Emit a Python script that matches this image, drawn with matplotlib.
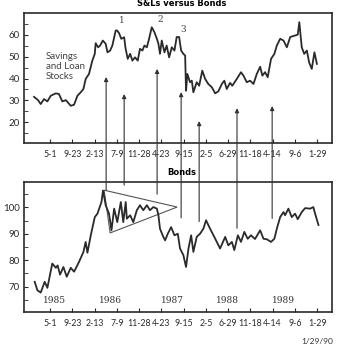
import matplotlib
matplotlib.use("Agg")
import matplotlib.pyplot as plt
from matplotlib.patches import ConnectionPatch, Polygon

plt.rcParams['font.family'] = ['Lato', 'DejaVu Sans']

# x axis is measured in tick intervals (0 = 5-1-85, 12 = 1-29-90)
tick_labels = ["5-1", "9-23", "2-13", "7-9", "11-28", "4-23", "9-15",
               "2-5", "6-29", "11-18", "4-14", "9-6", "1-29"]

# S&L stocks
sl_x = [-0.72, -0.54, -0.42, -0.27, -0.12, 0.03, 0.26, 0.40, 0.55, 0.71, 0.93, 1.08,
        1.23, 1.38, 1.50, 1.60, 1.75, 1.90, 2.01, 2.05, 2.16, 2.25, 2.37, 2.50,
        2.58, 2.70, 2.80, 2.95, 3.01, 3.10, 3.20, 3.33, 3.39, 3.49, 3.60, 3.70,
        3.82, 3.94, 4.04, 4.15, 4.24, 4.35, 4.45, 4.57, 4.69, 4.80, 4.87, 4.94,
        5.02, 5.14, 5.24, 5.35, 5.47, 5.59, 5.69, 5.80, 5.89, 5.99, 6.07, 6.11,
        6.17, 6.29, 6.37, 6.44, 6.59, 6.70, 6.84, 6.97, 7.11, 7.27, 7.42, 7.56,
        7.72, 7.83, 7.94, 8.09, 8.19, 8.39, 8.58, 8.69, 8.84, 8.99, 9.14, 9.29,
        9.44, 9.54, 9.66, 9.78, 9.93, 10.08, 10.19, 10.34, 10.49, 10.64, 10.79,
        11.01, 11.13, 11.20, 11.31, 11.42, 11.54, 11.64, 11.76, 11.88, 11.99]
sl_y = [31.6, 30.1, 28.3, 30.6, 29.5, 32.1, 33.2, 32.9, 29.5, 30.1, 27.5, 28.0,
        32.1, 33.7, 35.2, 39.8, 42.1, 48.2, 51.3, 56.2, 54.3, 55.1, 57.4, 55.9,
        52.0, 52.8, 55.1, 62.0, 62.0, 60.8, 58.2, 58.9, 54.0, 49.0, 51.3, 48.2,
        49.7, 48.2, 53.6, 52.8, 55.1, 54.3, 58.2, 63.5, 61.2, 58.2, 55.9, 51.3,
        57.4, 52.0, 55.1, 49.7, 54.3, 52.8, 59.0, 59.0, 52.8, 51.3, 50.5, 34.4,
        42.1, 38.3, 39.0, 33.7, 38.3, 36.7, 43.6, 39.8, 37.5, 36.0, 33.2, 34.1,
        37.5, 39.0, 35.2, 38.0, 36.7, 39.8, 42.9, 41.3, 38.3, 39.0, 37.5, 42.1,
        45.4, 41.3, 42.9, 40.6, 49.0, 51.3, 55.1, 58.2, 57.4, 54.3, 59.0,
        59.7, 60.1, 65.8, 54.3, 51.3, 52.8, 47.4, 44.4, 52.0, 46.7]

# Bonds
bd_x = [-0.69, -0.57, -0.42, -0.24, -0.12, 0.10, 0.26, 0.34, 0.45, 0.60, 0.75, 0.93,
        1.08, 1.30, 1.50, 1.60, 1.68, 1.83, 2.01, 2.13, 2.31, 2.38, 2.50, 2.65,
        2.76, 2.88, 3.02, 3.18, 3.29, 3.40, 3.45, 3.60, 3.74, 3.90, 4.04, 4.19,
        4.35, 4.49, 4.64, 4.80, 4.87, 4.94, 5.09, 5.17, 5.29, 5.44, 5.59, 5.74,
        5.84, 5.99, 6.11, 6.22, 6.34, 6.44, 6.59, 6.74, 6.89, 7.01, 7.19, 7.38,
        7.64, 7.87, 8.01, 8.17, 8.28, 8.44, 8.58, 8.73, 8.88, 9.03, 9.21, 9.44,
        9.59, 9.74, 9.93, 10.08, 10.19, 10.34, 10.49, 10.56, 10.71, 10.86, 11.01,
        11.13, 11.31, 11.46, 11.69, 11.83, 11.91, 12.06]
bd_y = [71.8, 68.6, 67.7, 71.8, 69.5, 78.7, 77.1, 78.0, 74.5, 77.4, 73.7, 77.1,
        75.6, 79.3, 83.1, 86.9, 82.8, 89.4, 96.3, 97.6, 102.0, 106.4, 100.8, 97.6,
        91.3, 99.5, 94.4, 102.0, 94.4, 102.0, 95.7, 97.0, 94.4, 98.9, 100.8, 98.9,
        100.8, 98.9, 100.1, 99.5, 97.0, 91.9, 88.8, 87.5, 90.0, 92.5, 89.4, 90.0,
        84.4, 81.9, 77.4, 84.4, 89.4, 83.1, 88.8, 90.0, 91.9, 95.1, 91.9, 88.8,
        84.4, 88.8, 85.6, 86.9, 83.8, 89.4, 86.9, 90.7, 88.1, 89.4, 88.0, 91.3,
        88.1, 87.9, 86.9, 88.1, 91.9, 96.3, 98.2, 97.0, 99.5, 96.3, 97.6,
        95.5, 98.2, 99.7, 99.5, 100.1, 97.6, 93.3]

# arrows: x, start on bonds panel, tip on S&L panel
arrow_x = [2.52, 3.33, 4.81, 5.89, 6.70, 8.40, 9.98]
arrow_from = [106.5, 108.4, 105.0, 96.0, 94.6, 92.1, 95.8]
arrow_to = [40.7, 32.9, 44.4, 33.8, 20.5, 26.4, 27.4]

# triangle (pennant) on bonds
tri_x = [2.43, 5.71, 2.70]
tri_y = [106.5, 100.1, 90.3]

years = ["1985", "1986", "1987", "1988", "1989"]
year_x = [0.22, 2.70, 5.48, 7.96, 10.47]

peak_labels = ["1", "2", "3"]
peak_x = [3.24, 4.94, 5.98]
peak_y = [66.4, 66.9, 62.3]

line_col = "#2a2a2a"

fig = plt.figure(figsize=(3.43, 3.52), dpi=100)
ax1 = fig.add_axes([0.070, 0.594, 0.898, 0.369])
ax2 = fig.add_axes([0.070, 0.114, 0.898, 0.369])

ax1.plot(sl_x, sl_y, color=line_col, lw=1.3)
ax2.plot(bd_x, bd_y, color=line_col, lw=1.3)

ax1.set_ylim(10.5, 70)
ax2.set_ylim(60.4, 109.6)
for ax in (ax1, ax2):
    ax.set_xlim(-1.17, 12.67)
    ax.set_xticks(range(len(tick_labels)))
    ax.set_xticklabels(tick_labels)
    ax.tick_params(axis='x', direction='in', length=3, labelsize=6.3, pad=5,
                   colors=line_col)
    ax.tick_params(axis='y', direction='in', length=3, labelsize=7, pad=3,
                   colors=line_col)
    ax.tick_params(axis='y', which='minor', direction='in', length=3, colors=line_col)
    for s in ax.spines.values():
        s.set_linewidth(1.2)
        s.set_color(line_col)

ax1.set_yticks([20, 30, 40, 50, 60])
ax1.set_yticks([15, 25, 35, 45, 55, 65], minor=True)
ax2.set_yticks([70, 80, 90, 100])
ax2.set_yticks([65, 75, 85, 95, 105], minor=True)

ax2.add_patch(Polygon(list(zip(tri_x, tri_y)), closed=True, fill=False,
                      edgecolor="#555555", lw=0.8))

ax1.text(-0.19, 45.3, "Savings\nand Loan\nStocks", fontsize=7, color="#444444",
         ha='left', va='center', linespacing=1.15)
for lab, x, y in zip(peak_labels, peak_x, peak_y):
    ax1.text(x, y, lab, fontsize=6.5, ha='center', va='center', color="#444444",
             family='DejaVu Serif')
for lab, x in zip(years, year_x):
    ax2.text(x, 64.7, lab, fontsize=6.5, ha='center', va='center', color="#333333",
             family='DejaVu Serif')

for x, y0, y1 in zip(arrow_x, arrow_from, arrow_to):
    con = ConnectionPatch(xyA=(x, y0), coordsA=ax2.transData,
                          xyB=(x, y1), coordsB=ax1.transData,
                          arrowstyle='-|>', mutation_scale=6,
                          color="#333333", lw=0.8, shrinkA=0, shrinkB=0)
    fig.add_artist(con)

fig.text(0.53, 0.989, "S&Ls versus Bonds", fontsize=6, fontweight='bold',
         ha='center', va='center', family='DejaVu Sans')
fig.text(0.53, 0.511, "Bonds", fontsize=6, fontweight='bold',
         ha='center', va='center', family='DejaVu Sans')
fig.text(0.971, 0.031, "1/29/90", fontsize=6, ha='right', va='center', color="#333333")

fig.savefig("out.png", dpi=100)
